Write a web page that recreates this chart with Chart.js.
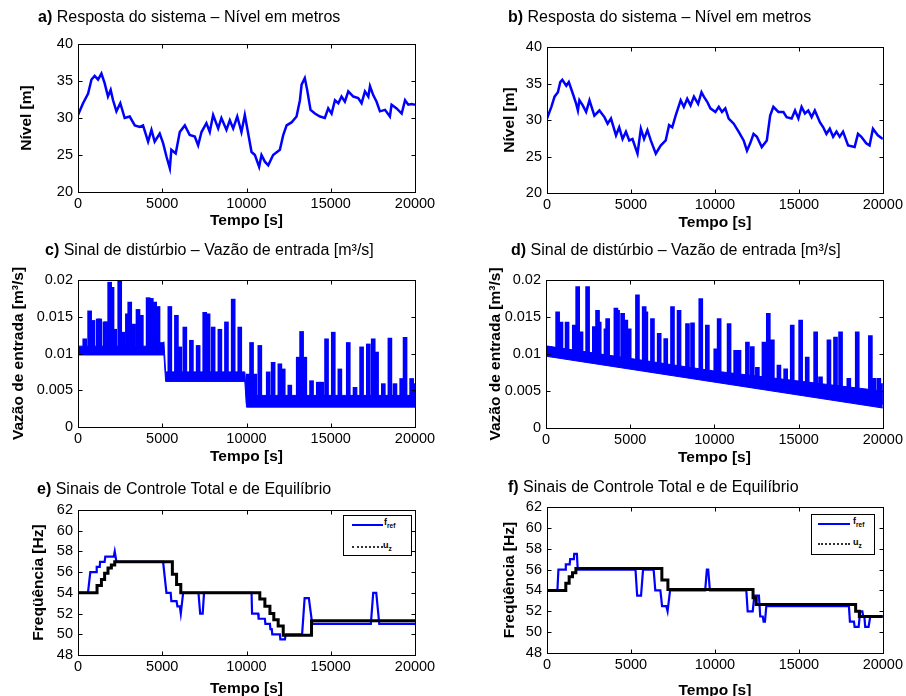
<!DOCTYPE html>
<html>
<head>
<meta charset="utf-8">
<script src="https://cdn.jsdelivr.net/npm/chart.js@4/dist/chart.umd.min.js"></script>
<style>
html, body { margin: 0; padding: 0; background: #fff; overflow: hidden; }
#fig { position: relative; width: 906px; height: 696px; overflow: hidden; font-family: "Liberation Sans", Arial, sans-serif; color: #000; }
#fig canvas { position: absolute; left: 0; top: 0; }
.ttl { position: absolute; font-size: 16px; line-height: 16px; white-space: nowrap; z-index: 2; }
.leg { position: absolute; box-sizing: border-box; border: 1px solid #000; background: #fff; z-index: 2; }
.sw { position: absolute; height: 0; }
.lt { position: absolute; font: bold 9px/10px "Liberation Sans", Arial, sans-serif; white-space: nowrap; color: #000; }
.lt sub { font-size: 6.5px; vertical-align: -3px; color: #000; }
</style>
</head>
<body>
<div id="fig">
  <canvas id="ca" width="906" height="720"></canvas>
  <canvas id="cb" width="906" height="720"></canvas>
  <canvas id="cc" width="906" height="720"></canvas>
  <canvas id="cd" width="906" height="720"></canvas>
  <canvas id="ce" width="906" height="720"></canvas>
  <canvas id="cf" width="906" height="720"></canvas>

  <div class="ttl" style="left:38px;top:8.5px"><b>a)</b> Resposta do sistema – Nível em metros</div>
  <div class="ttl" style="left:508px;top:8.5px"><b>b)</b> Resposta do sistema – Nível em metros</div>
  <div class="ttl" style="left:45px;top:241.5px"><b>c)</b> Sinal de distúrbio – Vazão de entrada [m³/s]</div>
  <div class="ttl" style="left:511px;top:242px"><b>d)</b> Sinal de distúrbio – Vazão de entrada [m³/s]</div>
  <div class="ttl" style="left:37px;top:480.5px"><b>e)</b> Sinais de Controle Total e de Equilíbrio</div>
  <div class="ttl" style="left:508px;top:478.5px"><b>f)</b> Sinais de Controle Total e de Equilíbrio</div>

  <div class="leg" style="left:343px;top:515px;width:69px;height:41px">
    <i class="sw" style="left:8px;top:8px;width:31px;border-top:2.5px solid #0000ff"></i>
    <span class="lt" style="left:40px;top:1px">f<sub>ref</sub></span>
    <i class="sw" style="left:8px;top:30px;width:31px;border-top:2px dotted #333"></i>
    <span class="lt" style="left:39px;top:24px">u<sub>z</sub></span>
  </div>
  <div class="leg" style="left:811px;top:514px;width:64px;height:41px">
    <i class="sw" style="left:6px;top:8px;width:32px;border-top:2.5px solid #0000ff"></i>
    <span class="lt" style="left:41px;top:1px">f<sub>ref</sub></span>
    <i class="sw" style="left:6px;top:28px;width:32px;border-top:2px dotted #333"></i>
    <span class="lt" style="left:41px;top:22px">u<sub>z</sub></span>
  </div>
</div>

<script>
// tick labels
const timeTicks = [0, 5000, 10000, 15000, 20000];
const levelTicks = [20, 25, 30, 35, 40];
const flowTicks = [0, 0.005, 0.01, 0.015, 0.02];
const freqTicks = [48, 50, 52, 54, 56, 58, 60, 62];

// a) nivel [m] vs tempo [s]
const levelA = [[0,30.4],[300,32.0],[600,33.3],[800,35.2],[990,35.7],[1190,35.2],[1390,36.0],[1580,34.7],[1780,32.9],[1940,33.8],[2080,32.4],[2280,30.9],[2510,32.0],[2770,30.0],[3070,30.2],[3370,29.0],[3660,28.8],[3860,29.0],[4160,26.8],[4360,28.4],[4550,26.8],[4850,27.9],[5050,26.6],[5250,24.8],[5450,23.2],[5540,25.7],[5800,25.2],[6040,28.1],[6340,29.0],[6630,27.7],[6930,27.5],[7130,26.3],[7330,28.1],[7620,29.3],[7820,28.1],[8020,30.4],[8320,28.6],[8510,30.0],[8810,28.4],[9010,29.7],[9210,28.6],[9450,30.2],[9700,28.1],[9900,30.4],[10100,27.9],[10300,25.4],[10500,25.0],[10750,23.4],[10890,25.0],[11090,24.1],[11290,23.6],[11580,25.0],[11980,25.7],[12180,27.7],[12380,29.0],[12670,29.4],[12970,30.2],[13170,32.4],[13270,34.5],[13460,35.4],[13600,33.8],[13800,31.1],[14060,30.6],[14360,30.2],[14650,30.0],[14850,31.3],[15050,30.6],[15250,32.4],[15450,32.0],[15640,32.9],[15840,32.2],[16040,33.6],[16340,32.9],[16630,32.7],[16830,32.0],[17030,33.6],[17230,32.9],[17330,34.3],[17520,33.1],[17720,32.2],[17920,30.9],[18220,31.1],[18510,30.2],[18610,31.8],[18910,31.3],[19210,30.6],[19410,32.4],[19600,31.8],[19800,31.9],[20000,31.8]];

// b) nivel [m] vs tempo [s]
const levelB = [[0,30.2],[260,31.8],[450,33.2],[650,33.8],[790,35.2],[910,35.5],[1150,34.7],[1300,35.2],[1540,33.6],[1740,32.2],[1840,31.3],[1930,32.7],[2130,32.0],[2330,31.1],[2530,32.7],[2820,30.6],[3120,31.3],[3420,30.4],[3610,29.5],[3810,30.2],[4110,27.9],[4300,29.0],[4500,27.4],[4700,28.4],[4900,27.2],[5090,27.4],[5390,25.4],[5590,28.8],[5780,27.4],[5980,28.6],[6180,27.2],[6480,25.4],[6770,26.5],[7070,27.2],[7270,29.3],[7460,29.0],[7660,30.6],[7960,32.7],[8150,31.8],[8350,32.9],[8550,32.0],[8750,33.2],[9000,32.2],[9200,33.8],[9340,33.2],[9540,32.5],[9730,31.6],[10030,31.1],[10230,31.8],[10420,31.1],[10620,31.6],[10820,30.2],[11120,29.5],[11410,28.4],[11710,27.2],[11910,25.8],[12100,26.8],[12300,28.1],[12500,27.7],[12790,26.3],[13090,27.2],[13290,30.6],[13480,31.8],[13780,31.1],[14080,31.1],[14270,30.4],[14570,30.2],[14770,31.3],[14970,30.2],[15160,31.8],[15360,30.9],[15560,31.3],[15760,30.4],[15950,31.3],[16250,29.7],[16450,29.0],[16640,28.1],[16840,28.8],[17040,27.7],[17240,28.4],[17430,27.7],[17630,28.4],[17930,26.5],[18320,26.3],[18520,28.1],[18720,27.7],[19010,26.8],[19210,26.5],[19410,28.8],[19700,27.9],[20000,27.4]];

// c) vazao de entrada: faixa de base (min / max) e picos [t, topo]
const flowA_low  = [[0,0.0098],[5100,0.0098],[5200,0.0062],[9900,0.0062],[10000,0.0027],[20000,0.0027]];
const flowA_high = [[0,0.0110],[4900,0.0110],[5100,0.0116],[5200,0.0075],[9900,0.0075],[10000,0.0043],[20000,0.0043]];
const flowA_stepT = [0, 5100, 9950];
const flowA_base  = [0.0103, 0.0068, 0.0033];
const flowA_spikes = [[400,0.0120],[690,0.0158],[890,0.0145],[1200,0.0147],[1290,0.0147],[1600,0.0143],[1680,0.0143],[1880,0.0197],[2020,0.0190],[2180,0.0133],[2475,0.0199],[2670,0.0129],[2930,0.0154],[3070,0.0170],[3300,0.0140],[3560,0.0160],[3760,0.0152],[4160,0.0176],[4350,0.0175],[4550,0.0170],[4750,0.0164],[4950,0.0115],[5450,0.0164],[5840,0.0152],[6040,0.0109],[6340,0.0136],[6730,0.0118],[7130,0.0111],[7520,0.0156],[7720,0.0154],[8020,0.0136],[8420,0.0133],[8810,0.0143],[9210,0.0174],[9600,0.0136],[10100,0.0072],[10300,0.0115],[10500,0.0072],[10790,0.0111],[11290,0.0075],[11580,0.0088],[11980,0.0086],[12180,0.0079],[12570,0.0057],[13070,0.0095],[13270,0.0130],[13460,0.0095],[13860,0.0063],[14260,0.0061],[14460,0.0061],[14750,0.0120],[15150,0.0129],[15540,0.0079],[16040,0.0115],[16440,0.0054],[16830,0.0109],[17230,0.0113],[17520,0.0120],[17720,0.0102],[18120,0.0059],[18510,0.0121],[18810,0.0059],[19210,0.0066],[19410,0.0122],[19800,0.0066],[19950,0.0059]];

// d) vazao de entrada: faixa de base e picos [t, base, topo]
const flowB_low  = [[0,0.0097],[20000,0.0027]];
const flowB_high = [[0,0.0111],[10000,0.0077],[20000,0.0050]];
const flowB_spikes = [[200,0.0099,0.0110],[400,0.0099,0.0106],[690,0.0098,0.0157],[890,0.0097,0.0143],[1250,0.0096,0.0143],[1680,0.0094,0.0139],[1880,0.0094,0.0191],[2080,0.0093,0.0130],[2470,0.0092,0.0191],[2870,0.0090,0.0137],[3060,0.0090,0.0159],[3160,0.0089,0.0143],[3560,0.0088,0.0134],[3660,0.0088,0.0148],[4150,0.0086,0.0162],[4250,0.0086,0.0159],[4550,0.0085,0.0155],[4740,0.0084,0.0146],[4940,0.0083,0.0134],[5430,0.0082,0.0180],[5830,0.0080,0.0164],[5930,0.0080,0.0157],[6320,0.0079,0.0148],[6720,0.0077,0.0128],[7110,0.0076,0.0121],[7510,0.0074,0.0164],[7900,0.0073,0.0159],[8400,0.0071,0.0141],[8700,0.0070,0.0142],[9190,0.0069,0.0175],[9580,0.0067,0.0139],[10080,0.0066,0.0107],[10280,0.0065,0.0148],[10870,0.0063,0.0141],[11260,0.0062,0.0105],[11460,0.0061,0.0105],[11960,0.0059,0.0116],[12250,0.0058,0.0110],[12550,0.0057,0.0082],[12940,0.0056,0.0116],[13200,0.0055,0.0155],[13440,0.0054,0.0119],[13830,0.0053,0.0085],[14230,0.0052,0.0080],[14620,0.0050,0.0139],[15120,0.0049,0.0146],[15510,0.0047,0.0096],[16010,0.0046,0.0130],[16300,0.0045,0.0069],[16800,0.0043,0.0119],[17190,0.0042,0.0123],[17490,0.0041,0.0130],[17980,0.0039,0.0067],[18480,0.0037,0.0130],[18770,0.0036,0.0048],[19260,0.0035,0.0125],[19470,0.0034,0.0067],[19760,0.0033,0.0067],[19960,0.0032,0.0060]];

// e) f_ref e u_z [Hz]
const freqE_ref = [[0,54],[590,54],[730,56],[1090,56],[1110,56.5],[1290,56.5],[1310,57],[1580,57],[1620,57.5],[2120,57.5],[2180,58],[2280,57],[5050,57],[5250,54],[5500,54],[5540,53.2],[5850,53.2],[5900,52.7],[6040,52.7],[6100,52],[6240,54],[7150,54],[7250,52],[7400,52],[7480,54],[10300,54],[10330,52],[10690,52],[10720,51.5],[11090,51.5],[11120,51],[11390,51],[11420,50.5],[11500,50.5],[11530,50],[11980,50],[12010,49.5],[12280,49.5],[12330,50],[13300,50],[13450,53.5],[13700,53.5],[13900,51],[17380,51],[17520,54],[17700,54],[17880,51],[20000,51]];
const freqE_uz = [[0,54],[1130,54.7],[1390,55.3],[1580,55.9],[1780,56.4],[1980,56.7],[2180,57],[5600,55.8],[5850,54.8],[6100,54],[10790,53.4],[11090,52.7],[11390,52],[11620,51.4],[11880,50.8],[12180,49.9],[13860,51.3],[20000,51.3]];

// f) f_ref e u_z [Hz]
const freqF_ref = [[0,54],[620,54],[680,56],[1100,56],[1120,56.5],[1350,56.5],[1380,57],[1600,57],[1620,57.5],[1780,57.5],[1830,56],[5270,56],[5370,53.5],[5600,53.5],[5720,56],[6350,56],[6450,54],[6750,54],[6800,53.3],[6850,52.5],[7100,52.5],[7180,52],[7330,54],[9420,54],[9520,56],[9600,56],[9700,54],[11870,54],[11950,52],[12250,52],[12350,53.5],[12620,53.5],[12700,51.5],[12850,51.5],[12900,51],[12980,51],[13060,52.5],[17980,52.5],[18040,51],[18280,51],[18320,50.5],[18560,50.5],[18650,52],[18780,52],[18830,51.5],[18900,51.5],[18950,50.5],[19150,50.5],[19250,51.5],[20000,51.5]];
const freqF_uz = [[0,54],[1120,54.7],[1320,55.3],[1520,55.7],[1720,56.1],[6840,55],[7200,54.1],[12270,53.3],[12460,52.65],[18380,52],[18600,51.5],[20000,51.5]];

const BLUE = '#0000ff';
const W = 906, H = 720, LH = 15.5 * 1.2;

// plot boxes in page pixels (yt / xt = centre of the axis titles)
const panels = {
  a: {l: 78,  t: 44,  r: 415, b: 192, yt: 27,    xt: 221},
  b: {l: 547, t: 47,  r: 885, b: 193, yt: 510,   xt: 223},
  c: {l: 78,  t: 280, r: 415, b: 427, yt: 18.5,  xt: 457},
  d: {l: 546, t: 280, r: 884, b: 428, yt: 495.5, xt: 458},
  e: {l: 78,  t: 510, r: 415, b: 655, yt: 38.5,  xt: 689},
  f: {l: 547, t: 507, r: 885, b: 653, yt: 510,   xt: 691}
};

Chart.defaults.font.family = '"Liberation Sans", Arial, sans-serif';
Chart.defaults.color = '#000';

// matlab style box with inward ticks on all four sides
const boxPlugin = {
  id: 'box',
  afterDatasetsDraw(chart) {
    const {ctx, chartArea: a, scales: {x, y}} = chart;
    const L = Math.round(a.left) + 0.5, R = Math.round(a.right) + 0.5;
    const T = Math.round(a.top) + 0.5, B = Math.round(a.bottom) + 0.5;
    ctx.save();
    ctx.strokeStyle = '#000';
    ctx.lineWidth = 1;
    ctx.strokeRect(L, T, R - L, B - T);
    ctx.beginPath();
    x.ticks.forEach(t => {
      const px = Math.round(x.getPixelForValue(t.value)) + 0.5;
      ctx.moveTo(px, B); ctx.lineTo(px, B - 4);
      ctx.moveTo(px, T); ctx.lineTo(px, T + 4);
    });
    y.ticks.forEach(t => {
      const py = Math.round(y.getPixelForValue(t.value)) + 0.5;
      ctx.moveTo(L, py); ctx.lineTo(L + 4, py);
      ctx.moveTo(R, py); ctx.lineTo(R - 4, py);
    });
    ctx.stroke();
    ctx.restore();
  }
};

function axis(isX, min, max, ticks, title, fit) {
  return {
    type: 'linear', position: isX ? 'bottom' : 'left', min: min, max: max, offset: false, beginAtZero: false,
    grid: {display: false, drawTicks: false}, border: {display: false},
    afterBuildTicks: s => { s.ticks = ticks.map(v => ({value: v})); },
    afterFit: fit,
    ticks: {color: '#000', font: {size: 14.5}, padding: isX ? 3 : 5, maxRotation: 0, autoSkip: false,
            callback: v => String(v)},
    title: {display: true, text: title, color: '#000', font: {size: 15.5, weight: 'bold'}, padding: 0}
  };
}

function pts(arr) { return arr.map(p => ({x: p[0], y: p[1]})); }

function line(arr, color, width, extra) {
  return Object.assign({type: 'line', data: pts(arr), borderColor: color, backgroundColor: color,
    borderWidth: width, pointRadius: 0, fill: false, tension: 0}, extra || {});
}

function spikes(data) {
  return {type: 'bar', data: data, backgroundColor: BLUE, borderWidth: 0, barThickness: 4, grouped: false};
}

function makeChart(id, p, datasets, yMin, yMax, yTicks, yTitle) {
  new Chart(document.getElementById(id), {
    type: 'line',
    data: {datasets: datasets},
    options: {
      responsive: false, animation: false, events: [],
      layout: {padding: {left: p.yt - LH / 2, top: p.t, right: W - p.r, bottom: H - (p.xt + LH / 2)}},
      plugins: {legend: {display: false}, tooltip: {enabled: false}, title: {display: false}},
      scales: {
        x: axis(true, 0, 20000, timeTicks, 'Tempo [s]', s => { s.height = p.xt + LH / 2 - p.b; }),
        y: axis(false, yMin, yMax, yTicks, yTitle, s => { s.width = p.l - (p.yt - LH / 2); })
      }
    },
    plugins: [boxPlugin]
  });
}

function baseA(t) {
  let k = 0;
  for (let i = 0; i < flowA_stepT.length; i++) if (t >= flowA_stepT[i]) k = i;
  return flowA_base[k];
}

makeChart('ca', panels.a, [line(levelA, BLUE, 2.5)], 20, 40, levelTicks, 'Nível [m]');
makeChart('cb', panels.b, [line(levelB, BLUE, 2.5)], 20, 40, levelTicks, 'Nível [m]');

makeChart('cc', panels.c, [
  spikes(flowA_spikes.map(s => ({x: s[0], y: [baseA(s[0]), s[1]]}))),
  line(flowA_low, BLUE, 1),
  line(flowA_high, BLUE, 1, {fill: '-1'})
], 0, 0.02, flowTicks, 'Vazão de entrada [m³/s]');

makeChart('cd', panels.d, [
  spikes(flowB_spikes.map(s => ({x: s[0], y: [s[1], s[2]]}))),
  line(flowB_low, BLUE, 1),
  line(flowB_high, BLUE, 1, {fill: '-1'})
], 0, 0.02, flowTicks, 'Vazão de entrada [m³/s]');

makeChart('ce', panels.e, [
  line(freqE_uz, '#000', 3, {stepped: true}),
  line(freqE_ref, BLUE, 2.2)
], 48, 62, freqTicks, 'Freqüência [Hz]');

makeChart('cf', panels.f, [
  line(freqF_uz, '#000', 3, {stepped: true}),
  line(freqF_ref, BLUE, 2.2)
], 48, 62, freqTicks, 'Freqüência [Hz]');
</script>
</body>
</html>
